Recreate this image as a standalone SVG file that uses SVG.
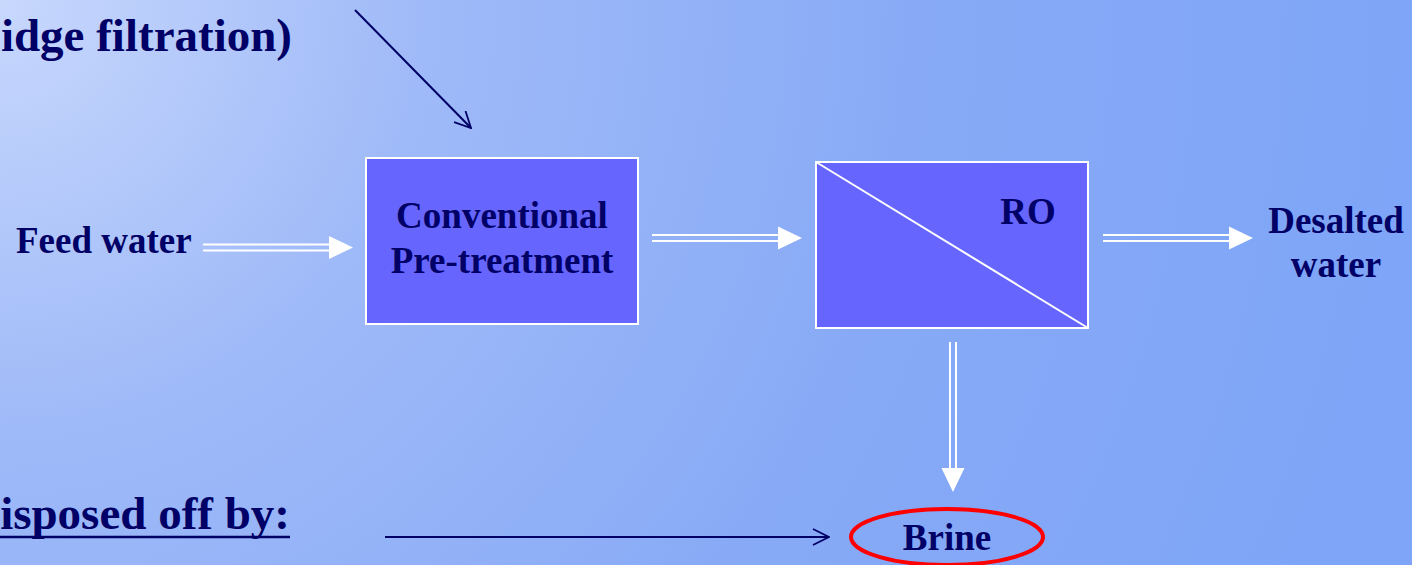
<svg xmlns="http://www.w3.org/2000/svg" width="1412" height="565" viewBox="0 0 1412 565">
  <defs>
    <radialGradient id="sky" cx="0" cy="0" r="1" gradientUnits="objectBoundingBox" gradientTransform="scale(1 2.5)">
      <stop offset="0" stop-color="#c8d8fd"/>
      <stop offset="0.3" stop-color="#9fbaf8"/>
      <stop offset="0.65" stop-color="#88aaf6"/>
      <stop offset="1" stop-color="#7ea5f7"/>
    </radialGradient>
    <marker id="open-lg" viewBox="0 0 18 18" refX="17" refY="9" markerWidth="18" markerHeight="18" markerUnits="userSpaceOnUse" orient="auto">
      <path d="M1,1 L17,9 L1,17" fill="none" stroke="#000066" stroke-width="1.8"/>
    </marker>
    <style>
      .lbl { font-family: "Liberation Serif", "Times New Roman", serif; font-weight: bold; fill: #000066; }
      .big { font-size: 47px; }
      .mid { font-size: 37px; }
      .box { fill: #6666ff; stroke: #ffffff; stroke-width: 2; }
      .rail { stroke: #ffffff; stroke-width: 2; fill: none; }
      .head { fill: #ffffff; }
      .thin { stroke: #000066; stroke-width: 2; fill: none; }
    </style>
  </defs>

  <!-- background -->
  <rect x="0" y="0" width="1412" height="565" fill="url(#sky)"/>

  <!-- heading fragments at the slide edge -->
  <text class="lbl big" x="292" y="51" text-anchor="end">idge filtration)</text>
  <g id="disposal-label">
    <text class="lbl big" x="290" y="529" text-anchor="end">isposed off by:</text>
    <line x1="0" y1="537" x2="290" y2="537" stroke="#000066" stroke-width="2.5"/>
  </g>

  <!-- connectors -->
  <g id="connectors">
    <!-- pointer into pre-treatment -->
    <line class="thin" x1="355" y1="10" x2="471" y2="128" marker-end="url(#open-lg)"/>
    <!-- pointer to brine -->
    <line class="thin" x1="385" y1="537" x2="829" y2="537" marker-end="url(#open-lg)"/>

    <!-- feed -> pre-treatment -->
    <line class="rail" x1="203" y1="244.5" x2="332" y2="244.5"/>
    <line class="rail" x1="203" y1="250.5" x2="332" y2="250.5"/>
    <polygon class="head" points="329,236 353,247.5 329,259"/>

    <!-- pre-treatment -> RO -->
    <line class="rail" x1="652" y1="235" x2="781" y2="235"/>
    <line class="rail" x1="652" y1="241" x2="781" y2="241"/>
    <polygon class="head" points="778,226.5 802,238 778,249.5"/>

    <!-- RO -> desalted water -->
    <line class="rail" x1="1103" y1="235" x2="1232" y2="235"/>
    <line class="rail" x1="1103" y1="241" x2="1232" y2="241"/>
    <polygon class="head" points="1229,226.5 1253,238 1229,249.5"/>

    <!-- RO -> brine -->
    <line class="rail" x1="950" y1="342" x2="950" y2="471"/>
    <line class="rail" x1="956" y1="342" x2="956" y2="471"/>
    <polygon class="head" points="941.5,468 964.5,468 953,492"/>
  </g>

  <g id="feed">
    <text class="lbl mid" x="16" y="253">Feed water</text>
  </g>

  <g id="pretreatment">
    <rect class="box" x="366" y="158" width="272" height="166"/>
    <text class="lbl mid" x="502" y="228" text-anchor="middle">Conventional</text>
    <text class="lbl mid" x="502" y="273" text-anchor="middle">Pre-treatment</text>
  </g>

  <g id="ro">
    <rect class="box" x="816" y="162" width="272" height="166"/>
    <line x1="816" y1="162" x2="1088" y2="328" stroke="#ffffff" stroke-width="2"/>
    <text class="lbl mid" x="1028" y="224" text-anchor="middle">RO</text>
  </g>

  <g id="desalted">
    <text class="lbl mid" x="1336" y="233" text-anchor="middle">Desalted</text>
    <text class="lbl mid" x="1336" y="277" text-anchor="middle">water</text>
  </g>

  <g id="brine">
    <ellipse cx="947" cy="537" rx="96" ry="28" fill="none" stroke="#ff0000" stroke-width="4"/>
    <text class="lbl mid" x="947" y="550" text-anchor="middle">Brine</text>
  </g>
</svg>
